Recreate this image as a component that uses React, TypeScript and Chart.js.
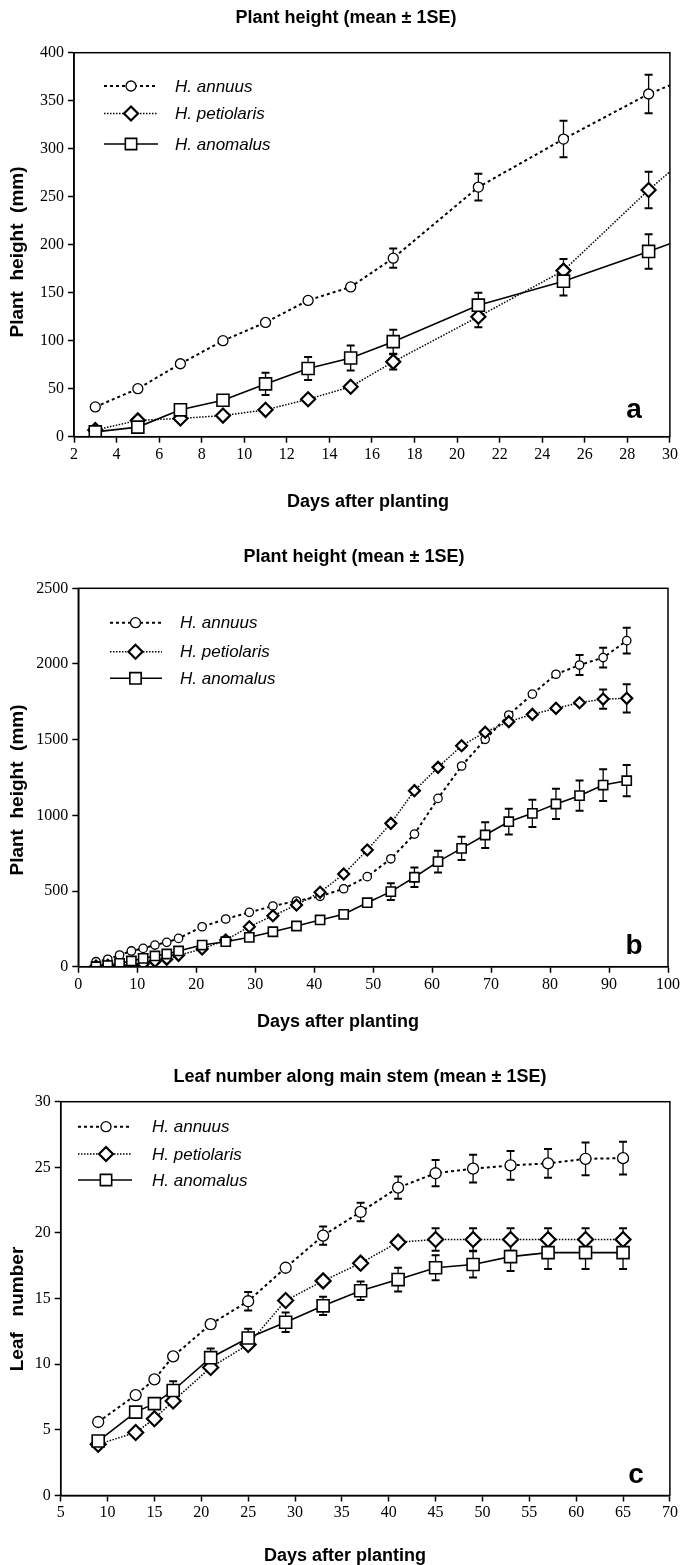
import React, { useEffect, useRef } from 'react';
import { Chart, registerables } from 'chart.js';

Chart.register(...registerables);

// ---------------- DATA ----------------
const speciesNames = ['H. annuus', 'H. petiolaris', 'H. anomalus'];

// Panel a: plant height (mm), early days
const daysA = [3, 5, 7, 9, 11, 13, 15, 17, 21, 25, 29, 30];
const annuusA = [31, 50, 76, 100, 119, 142, 156, 186, 260, 310, 357, 366];
const petiolarisA = [7, 17, 19, 22, 28, 39, 52, 78, 125, 173, 257, 276];
const anomalusA = [5, 10, 28, 38, 55, 71, 82, 99, 137, 162, 193, 201];
const annuusSeA = [0, 0, 0, 0, 0, 0, 0, 10, 14, 19, 20, 0];
const petiolarisSeA = [0, 0, 0, 0, 0, 0, 0, 8, 11, 12, 19, 0];
const anomalusSeA = [0, 0, 0, 0, 11.5, 12, 13, 12.5, 13, 15, 18, 0];

// Panel b: plant height (mm), full season
const daysB = [3, 5, 7, 9, 11, 13, 15, 17, 21, 25, 29, 33, 37, 41, 45, 49, 53, 57, 61, 65, 69, 73, 77, 81, 85, 89, 93];
const annuusB = [33, 49, 77, 104, 121, 143, 161, 187, 264, 315, 359, 401, 434, 465, 515, 595, 713, 876, 1112, 1326, 1502, 1663, 1801, 1932, 1993, 2042, 2154];
const petiolarisB = [5, 10, 5, 8, 18, 35, 50, 75, 117, 176, 264, 337, 408, 492, 612, 771, 947, 1163, 1317, 1460, 1549, 1619, 1667, 1707, 1744, 1768, 1773];
const anomalusB = [0, 7, 22, 38, 55, 71, 84, 104, 143, 165, 194, 231, 269, 309, 346, 423, 496, 591, 694, 782, 870, 958, 1013, 1075, 1130, 1200, 1229];
const annuusSeB = [0, 0, 0, 0, 0, 0, 0, 0, 0, 0, 0, 0, 0, 0, 0, 0, 0, 0, 0, 0, 0, 0, 0, 0, 66, 66, 85];
const petiolarisSeB = [0, 0, 0, 0, 0, 0, 0, 0, 0, 0, 0, 0, 0, 0, 0, 0, 0, 0, 0, 0, 0, 0, 0, 0, 0, 64, 93];
const anomalusSeB = [0, 0, 0, 0, 0, 0, 0, 0, 0, 0, 0, 0, 0, 0, 0, 0, 55, 65, 72, 77, 85, 85, 90, 100, 100, 105, 103];

// Panel c: leaf number along main stem
const daysC = [9, 13, 15, 17, 21, 25, 29, 33, 37, 41, 45, 49, 53, 57, 61, 65];
const annuusC = [5.6, 7.65, 8.85, 10.6, 13.05, 14.8, 17.35, 19.8, 21.6, 23.45, 24.55, 24.9, 25.15, 25.3, 25.65, 25.7];
const petiolarisC = [3.9, 4.8, 5.85, 7.2, 9.75, 11.5, 14.85, 16.35, 17.7, 19.3, 19.5, 19.5, 19.5, 19.5, 19.5, 19.5];
const anomalusC = [4.15, 6.35, 7.0, 8.0, 10.5, 12.0, 13.2, 14.45, 15.6, 16.45, 17.35, 17.6, 18.2, 18.5, 18.5, 18.5];
const annuusSeC = [0, 0, 0, 0, 0.3, 0.7, 0, 0.7, 0.7, 0.85, 1.0, 1.05, 1.1, 1.1, 1.25, 1.25];
const petiolarisSeC = [0, 0, 0, 0, 0, 0, 0, 0, 0, 0, 0.85, 0.85, 0.85, 0.85, 0.85, 0.85];
const anomalusSeC = [0, 0, 0, 0.7, 0.7, 0.7, 0.75, 0.7, 0.7, 0.9, 0.95, 1.0, 1.1, 1.25, 1.25, 1.25];

// Axis ticks
const xTicksA = { min: 2, max: 30, step: 2 };
const yTicksA = { min: 0, max: 400, step: 50 };
const xTicksB = { min: 0, max: 100, step: 10 };
const yTicksB = { min: 0, max: 2500, step: 500 };
const xTicksC = { min: 5, max: 70, step: 5 };
const yTicksC = { min: 0, max: 30, step: 5 };

// ---------------- STYLES / LAYOUT ----------------
const W = 680;
const seriesStyles = [
  { dash: [3, 3], width: 2, point: 'circle', pbw: 1.3 },
  { dash: [1.5, 1.5], width: 1.5, point: 'rectRot', pbw: 2.2 },
  { dash: [], width: 1.6, point: 'rect', pbw: 1.6 },
];

const TITLE_FONT = "bold 18px 'Liberation Sans', Arial, sans-serif";
const YTITLE_FONT = "bold 19px 'Liberation Sans', Arial, sans-serif";
const LEGEND_FONT = "italic 17px 'Liberation Sans', Arial, sans-serif";
const LETTER_FONT = "bold 28px 'Liberation Sans', Arial, sans-serif";

type Spec = {
  height: number;
  area: { left: number; right: number; top: number; bottom: number };
  xt: { min: number; max: number; step: number };
  yt: { min: number; max: number; step: number };
  days: number[];
  series: number[][];
  se: number[][];
  radii: number[];
  legendRadii: number[];
  title: string; titlePos: number[];
  xTitle: string; xTitlePos: number[];
  yTitle: string; yTitlePos: number[];
  letter: string; letterPos: number[];
  legend: { x0: number; x1: number; xm: number; xt: number; ys: number[] };
};

const panels: Spec[] = [
  {
    height: 520,
    area: { left: 74, right: 670, top: 52.7, bottom: 436.7 },
    xt: xTicksA, yt: yTicksA,
    days: daysA,
    series: [annuusA, petiolarisA, anomalusA],
    se: [annuusSeA, petiolarisSeA, anomalusSeA],
    radii: [5, 7, 8.5], legendRadii: [5, 7, 8],
    title: 'Plant height (mean ± 1SE)', titlePos: [346, 18],
    xTitle: 'Days after planting', xTitlePos: [368, 502],
    yTitle: 'Plant  height  (mm)', yTitlePos: [17.5, 252],
    letter: 'a', letterPos: [634, 410],
    legend: { x0: 104, x1: 158, xm: 131, xt: 175, ys: [86, 113.5, 144] },
  },
  {
    height: 520,
    area: { left: 78.3, right: 668, top: 68.3, bottom: 446.7 },
    xt: xTicksB, yt: yTicksB,
    days: daysB,
    series: [annuusB, petiolarisB, anomalusB],
    se: [annuusSeB, petiolarisSeB, anomalusSeB],
    radii: [4.2, 5.5, 6.5], legendRadii: [5, 7, 8],
    title: 'Plant height (mean ± 1SE)', titlePos: [354, 36.7],
    xTitle: 'Days after planting', xTitlePos: [338, 501.7],
    yTitle: 'Plant  height  (mm)', yTitlePos: [17.5, 270],
    letter: 'b', letterPos: [634, 426],
    legend: { x0: 110, x1: 162, xm: 135.5, xt: 180, ys: [102.7, 131.7, 158.3] },
  },
  {
    height: 525,
    area: { left: 60.7, right: 671.7, top: 61.7, bottom: 455.5 },
    xt: xTicksC, yt: yTicksC,
    days: daysC,
    series: [annuusC, petiolarisC, anomalusC],
    se: [annuusSeC, petiolarisSeC, anomalusSeC],
    radii: [5.5, 7.5, 8.5], legendRadii: [5, 7, 8],
    title: 'Leaf number along main stem (mean ± 1SE)', titlePos: [360, 36.7],
    xTitle: 'Days after planting', xTitlePos: [345, 516.5],
    yTitle: 'Leaf   number', yTitlePos: [17.5, 269],
    letter: 'c', letterPos: [636, 435],
    legend: { x0: 78, x1: 132, xm: 106, xt: 152, ys: [86.7, 114, 140] },
  },
];

function drawMarker(ctx: CanvasRenderingContext2D, style: string, x: number, y: number, r: number, bw: number) {
  ctx.save();
  ctx.setLineDash([]);
  ctx.lineWidth = bw;
  ctx.strokeStyle = '#000';
  ctx.fillStyle = '#fff';
  ctx.beginPath();
  if (style === 'circle') {
    ctx.arc(x, y, r, 0, Math.PI * 2);
  } else if (style === 'rectRot') {
    ctx.moveTo(x - r, y); ctx.lineTo(x, y - r); ctx.lineTo(x + r, y); ctx.lineTo(x, y + r); ctx.closePath();
  } else {
    const s = r * Math.SQRT1_2;
    ctx.rect(x - s, y - s, 2 * s, 2 * s);
  }
  ctx.fill();
  ctx.stroke();
  ctx.restore();
}

function buildConfig(spec: Spec): any {
  const H = spec.height;
  const datasets = spec.series.map((vals, i) => {
    const st = seriesStyles[i];
    const radius = spec.days.map((d) => (d >= spec.xt.max ? 0 : spec.radii[i]));
    return {
      label: speciesNames[i],
      data: spec.days.map((d, j) => ({ x: d, y: vals[j] })),
      borderColor: '#000',
      borderWidth: st.width,
      borderDash: st.dash,
      tension: 0,
      fill: false,
      pointStyle: st.point,
      pointRadius: radius,
      pointHoverRadius: radius,
      pointBackgroundColor: '#fff',
      pointBorderColor: '#000',
      pointBorderWidth: st.pbw,
      order: 3 - i,
    };
  });

  const decor = {
    id: 'panelDecor',
    beforeDatasetsDraw(chart: any) {
      const ctx: CanvasRenderingContext2D = chart.ctx;
      const ys = chart.scales.y;
      ctx.save();
      ctx.strokeStyle = '#000';
      ctx.setLineDash([]);
      spec.se.forEach((errs, i) => {
        const meta = chart.getDatasetMeta(i);
        errs.forEach((e, j) => {
          if (!e) return;
          const v = spec.series[i][j];
          const pt = meta.data[j];
          if (!pt) return;
          const x = pt.x;
          const yt = ys.getPixelForValue(v + e);
          const yb = ys.getPixelForValue(v - e);
          ctx.lineWidth = 1.3;
          ctx.beginPath();
          ctx.moveTo(x, yt); ctx.lineTo(x, yb);
          ctx.stroke();
          ctx.lineWidth = 2;
          ctx.beginPath();
          ctx.moveTo(x - 4, yt); ctx.lineTo(x + 4, yt);
          ctx.moveTo(x - 4, yb); ctx.lineTo(x + 4, yb);
          ctx.stroke();
        });
      });
      ctx.restore();
    },
    afterDatasetsDraw(chart: any) {
      const ctx: CanvasRenderingContext2D = chart.ctx;
      const a = chart.chartArea;
      ctx.save();
      ctx.strokeStyle = '#000';
      ctx.lineWidth = 1.5;
      ctx.setLineDash([]);
      ctx.strokeRect(a.left, a.top, a.right - a.left, a.bottom - a.top);
      const lg = spec.legend;
      speciesNames.forEach((name, i) => {
        const st = seriesStyles[i];
        const y = lg.ys[i];
        ctx.save();
        ctx.strokeStyle = '#000';
        ctx.lineWidth = st.width;
        ctx.setLineDash(st.dash);
        ctx.beginPath();
        ctx.moveTo(lg.x0, y); ctx.lineTo(lg.x1, y);
        ctx.stroke();
        ctx.restore();
        drawMarker(ctx, st.point, lg.xm, y, spec.legendRadii[i], st.pbw);
        ctx.fillStyle = '#000';
        ctx.font = LEGEND_FONT;
        ctx.textAlign = 'left';
        ctx.textBaseline = 'middle';
        ctx.fillText(name, lg.xt, y + 1);
      });
      ctx.restore();
    },
    afterDraw(chart: any) {
      const ctx: CanvasRenderingContext2D = chart.ctx;
      ctx.save();
      ctx.fillStyle = '#000';
      ctx.textAlign = 'center';
      ctx.textBaseline = 'middle';
      ctx.font = TITLE_FONT;
      ctx.fillText(spec.title, spec.titlePos[0], spec.titlePos[1]);
      ctx.fillText(spec.xTitle, spec.xTitlePos[0], spec.xTitlePos[1]);
      ctx.font = LETTER_FONT;
      ctx.fillText(spec.letter, spec.letterPos[0], spec.letterPos[1]);
      ctx.save();
      ctx.translate(spec.yTitlePos[0], spec.yTitlePos[1]);
      ctx.rotate(-Math.PI / 2);
      ctx.font = YTITLE_FONT;
      ctx.fillText(spec.yTitle, 0, 0);
      ctx.restore();
      ctx.restore();
    },
  };

  const tickFont = { family: "'Liberation Serif', 'Times New Roman', serif", size: 16 };
  const gridCommon = {
    display: true,
    drawOnChartArea: false,
    drawTicks: true,
    tickLength: 6,
    tickColor: '#000',
    tickWidth: 1.5,
  };
  const border = { display: true, color: '#000', width: 1.5 };
  const plain = (v: any) => String(v);

  return {
    type: 'line',
    data: { datasets },
    plugins: [decor],
    options: {
      responsive: false,
      animation: false,
      devicePixelRatio: 1,
      events: [],
      layout: {
        padding: { top: spec.area.top, right: W - spec.area.right, left: 0, bottom: 0 },
      },
      plugins: {
        legend: { display: false },
        title: { display: false },
        tooltip: { enabled: false },
      },
      scales: {
        x: {
          type: 'linear',
          min: spec.xt.min,
          max: spec.xt.max,
          grid: gridCommon,
          border,
          ticks: { stepSize: spec.xt.step, color: '#000', font: tickFont, padding: 2, maxRotation: 0, autoSkip: false, callback: plain },
          afterFit: (s: any) => {
            s.height = H - spec.area.bottom;
            s.paddingLeft = 0;
            s.paddingRight = 0;
          },
        },
        y: {
          type: 'linear',
          min: spec.yt.min,
          max: spec.yt.max,
          grid: gridCommon,
          border,
          ticks: { stepSize: spec.yt.step, color: '#000', font: tickFont, padding: 4, autoSkip: false, callback: plain },
          afterFit: (s: any) => {
            s.width = spec.area.left;
            s.paddingTop = 0;
            s.paddingBottom = 0;
          },
        },
      },
    },
  };
}

function Panel({ spec, top }: { spec: Spec; top: number }) {
  const ref = useRef<HTMLCanvasElement>(null);
  useEffect(() => {
    if (!ref.current) return;
    const chart = new Chart(ref.current, buildConfig(spec));
    return () => chart.destroy();
  }, [spec]);
  return (
    <canvas
      ref={ref}
      width={W}
      height={spec.height}
      style={{ position: 'absolute', left: 0, top, width: W, height: spec.height, display: 'block' }}
    />
  );
}

export default function App() {
  return (
    <div style={{ position: 'absolute', left: 0, top: 0, width: W, height: 1565, background: '#fff', overflow: 'hidden' }}>
      <Panel spec={panels[0]} top={0} />
      <Panel spec={panels[1]} top={520} />
      <Panel spec={panels[2]} top={1040} />
    </div>
  );
}
